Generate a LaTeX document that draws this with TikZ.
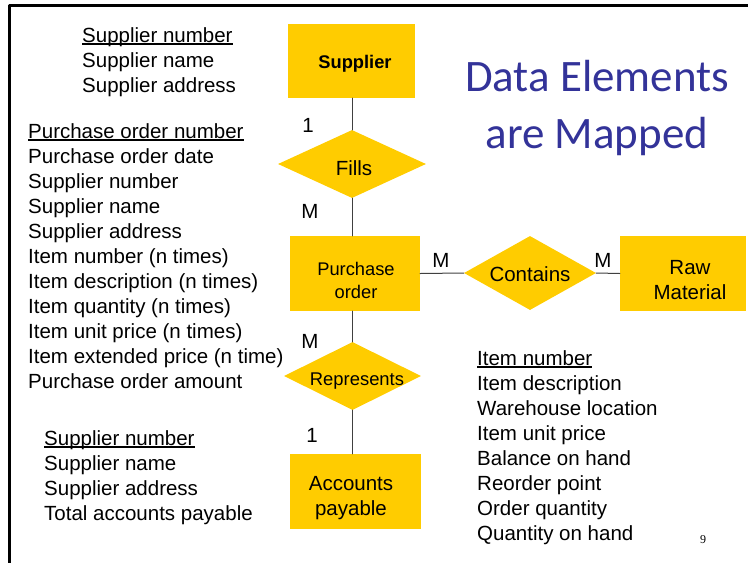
\documentclass[tikz,border=0pt]{standalone}
\usepackage{fontspec}
\setmainfont{Liberation Sans}
\newfontfamily\titlefont{Carlito}
\newfontfamily\pagefont{Liberation Serif}
\usetikzlibrary{shapes.geometric}

\definecolor{erYellow}{HTML}{FFCC00}
\definecolor{titleBlue}{HTML}{333399}
\newcommand{\listfont}{\fontsize{20.5}{25}\selectfont}
% key attribute: underline close to the baseline
\newcommand{\keyattr}[1]{\setbox0\hbox{#1}\rlap{\rule[-2.6pt]{\wd0}{1.7pt}}\box0}

\tikzset{
  entity/.style={fill=erYellow, inner sep=0pt},
  etext/.style={inner sep=0pt, align=center, font=\listfont},
  rel/.style={diamond, fill=erYellow, inner sep=0pt},
  attrs/.style={anchor=north west, inner sep=0pt, align=left, font=\listfont},
  card/.style={inner sep=0pt, font=\listfont},
  link/.style={line width=1pt, black!75}
}

\begin{document}
\begin{tikzpicture}[line cap=round,line join=round,x=1pt,y=-1pt]
        \useasboundingbox (0,0) rectangle (748,563);
        % frame of the slide
        \draw [line width=3pt, line cap=butt] (9,563) -- (9,5) -- (748,5);

        % entities
        \node [entity, minimum width=127pt, minimum height=74pt] (supplier) at (351.5,61) {};
        \node [etext, font=\bfseries\fontsize{18.3}{24}\selectfont] (supplierT) at (355,63.5) {Supplier};
        \node [entity, minimum width=130pt, minimum height=75pt] (po) at (355,273.5) {};
        \node [etext, font=\fontsize{18.3}{23}\selectfont] (poT) at (356,280) {Purchase\\order};
        \node [entity, minimum width=126pt, minimum height=75pt] (raw) at (683,273.5) {};
        \node [etext] (rawT) at (690,280) {Raw\\Material};
        \node [entity, minimum width=131pt, minimum height=75pt] (ap) at (355.5,491.5) {};
        \node [etext] (apT) at (351,498) {Accounts\\payable};

        % relationships
        \node [rel, minimum width=148pt, minimum height=68pt] (fills) at (352,164) {};
        \node [card] (fillsT) at (354,168) {Fills};
        \node [rel, minimum width=132pt, minimum height=74pt] (contains) at (530,273) {};
        \node [card] (containsT) at (530,274) {Contains};
        \node [rel, minimum width=137pt, minimum height=68pt] (represents) at (352.5,376) {};
        \node [card, font=\fontsize{18.4}{22}\selectfont] (representsT) at (357,381) {Represents};

        % connectors
        \draw [link] (fills.north) -- (fills.north |- supplier.south);
        \draw [link] (fills.south) -- (fills.south |- po.north);
        \draw [link] (represents.north) -- (represents.north |- po.south);
        \draw [link] (represents.south) -- (represents.south |- ap.north);
        \draw [link] (po.east) -- (contains.west);
        \draw [link] (contains.east) -- (raw.west);

        % cardinalities
        \node [card] (c1) at (308,125) {1};
        \node [card] (c2) at (310,211) {M};
        \node [card] (c3) at (441,260) {M};
        \node [card] (c4) at (603,260) {M};
        \node [card] (c5) at (310,341) {M};
        \node [card] (c6) at (312,435) {1};

        % attribute lists
        \node [attrs] (supAttrs) at (82,27) {\keyattr{Supplier number}\\Supplier name\\Supplier address};
        \node [attrs] (poAttrs) at (28,123) {\keyattr{Purchase order number}\\Purchase order date\\Supplier number\\Supplier name\\Supplier address\\Item number (n times)\\Item description (n times)\\Item quantity (n times)\\Item unit price (n times)\\Item extended price (n time)\\Purchase order amount};
        \node [attrs] (apAttrs) at (44,430) {\keyattr{Supplier number}\\Supplier name\\Supplier address\\Total accounts payable};
        \node [attrs] (rawAttrs) at (477,350) {\keyattr{Item number}\\Item description\\Warehouse location\\Item unit price\\Balance on hand\\Reorder point\\Order quantity\\Quantity on hand};

        % title and page number
        \node [align=center, text=titleBlue, font=\titlefont\fontsize{45}{57}\selectfont] (title) at (597,108) {Data Elements\\are Mapped};
        \node [font=\pagefont\fontsize{12}{14}\selectfont] (page) at (703,540) {9};
    \end{tikzpicture}
\end{document}
